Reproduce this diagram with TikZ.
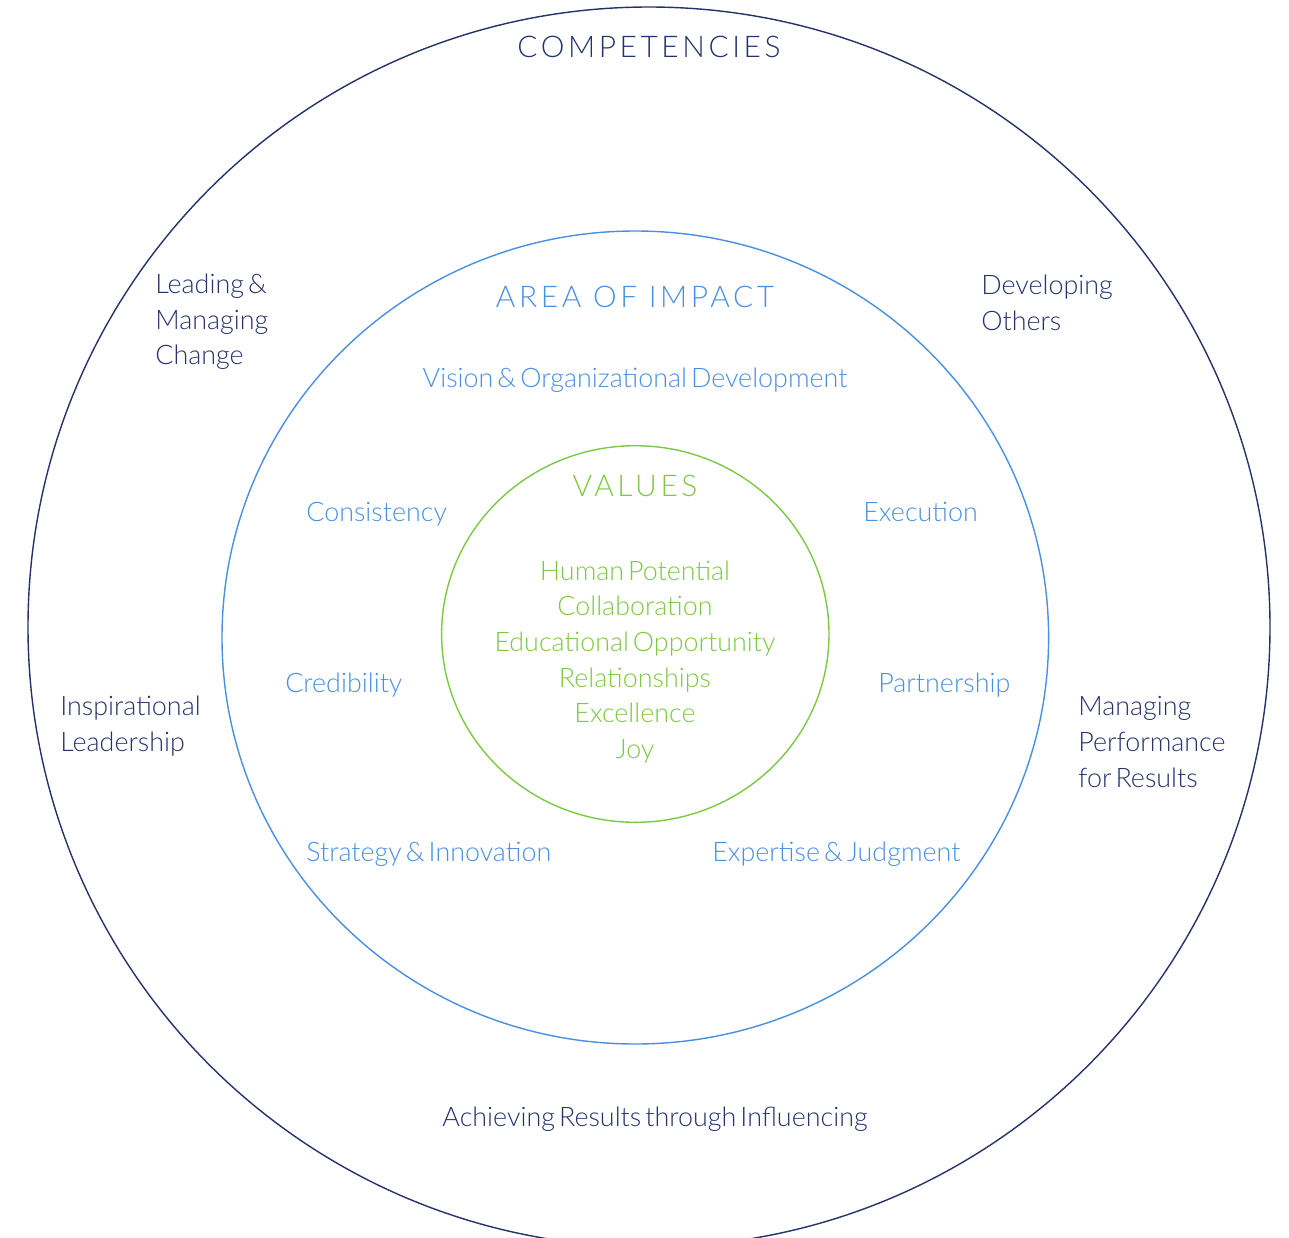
\documentclass[tikz,border=0pt]{standalone}
\usepackage{fontspec}
\setmainfont{Lato Light}[WordSpace=0.55]
\newfontfamily\headfont{Lato Light}[LetterSpace=12]
\definecolor{compnavy}{HTML}{25336A}
\definecolor{impactblue}{HTML}{4A90E2}
\definecolor{valuegreen}{HTML}{7DC943}
\tikzset{
  ring/.style={line width=0.8pt},
  itemtext/.style={font=\fontsize{15.3}{20.3}\selectfont, inner sep=0pt},
  heading/.style={font=\headfont\fontsize{17}{20}\selectfont, inner sep=0pt},
}
\begin{document}
\begin{tikzpicture}[x=0.02cm,y=-0.02cm]
  \useasboundingbox (0,0) rectangle (1289,1238);
  \draw[compnavy,ring] (649,627) ellipse[x radius=621,y radius=620];
  \draw[impactblue,ring] (635.3,637.5) ellipse[x radius=413.3,y radius=406.5];
  \draw[valuegreen,ring] (635.3,634) ellipse[x radius=193.7,y radius=188.3];

  % competencies
  \node[heading,compnavy] (comp) at (649,47) {COMPETENCIES};
  \node[itemtext,compnavy,align=left,anchor=west] (lead) at (155,322) {Leading \&\\Managing\\Change};
  \node[itemtext,compnavy,align=left,anchor=west] (dev) at (981,303) {Developing\\Others};
  \node[itemtext,compnavy,align=left,anchor=west] (insp) at (60,726) {Inspirational\\Leadership};
  \node[itemtext,compnavy,align=left,anchor=west] (perf) at (1078,742) {Managing\\Performance\\for Results};
  \node[itemtext,compnavy] (achv) at (655,1119) {Achieving Results through Influencing};

  % area of impact
  \node[heading,impactblue] (impact) at (635,297) {AREA OF IMPACT};
  \node[itemtext,impactblue] (vision) at (635,380) {Vision \& Organizational Development};
  \node[itemtext,impactblue,anchor=west] (cons) at (306,514) {Consistency};
  \node[itemtext,impactblue,anchor=west] (exec) at (863,512) {Execution};
  \node[itemtext,impactblue,anchor=west] (cred) at (285,685) {Credibility};
  \node[itemtext,impactblue,anchor=west] (part) at (878,685) {Partnership};
  \node[itemtext,impactblue,anchor=west] (strat) at (306,854) {Strategy \& Innovation};
  \node[itemtext,impactblue,anchor=west] (expt) at (712,854) {Expertise \& Judgment};

  % values
  \node[heading,valuegreen] (values) at (635,486) {VALUES};
  \node[itemtext,valuegreen,align=center] (vlist) at (635,662)
    {Human Potential\\Collaboration\\Educational Opportunity\\Relationships\\Excellence\\Joy};
\end{tikzpicture}
\end{document}
